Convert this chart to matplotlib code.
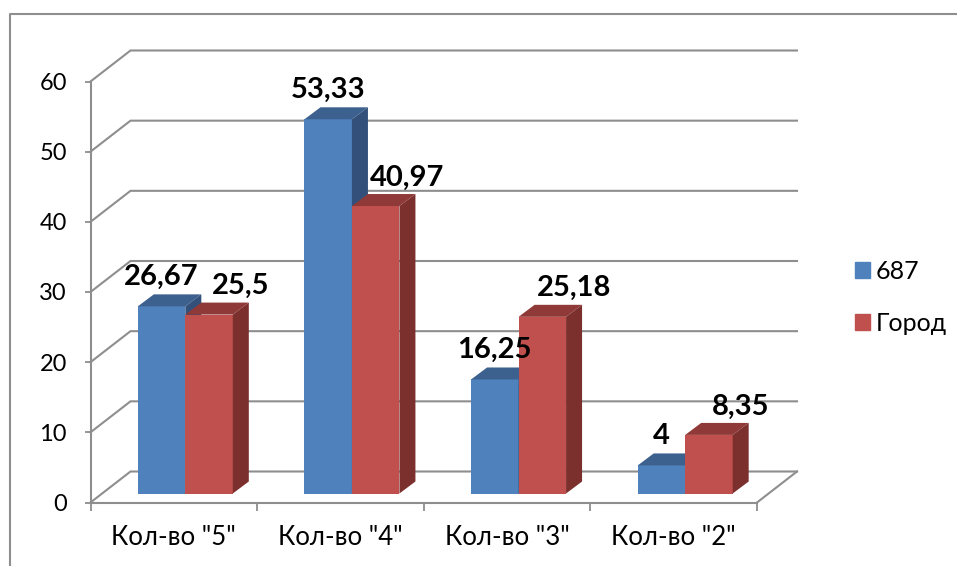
import matplotlib
matplotlib.use('Agg')
from matplotlib import pyplot as plt
from matplotlib.lines import Line2D
from matplotlib.patches import Patch, Polygon
from matplotlib.transforms import Affine2D

plt.rcParams['font.family'] = ['Lato', 'DejaVu Sans']

categories = ['Кол-во "5"', 'Кол-во "4"', 'Кол-во "3"', 'Кол-во "2"']
school = [26.67, 53.33, 16.25, 4]
city = [25.5, 40.97, 25.18, 8.35]
school_text = ['26,67', '53,33', '16,25', '4']
city_text = ['25,5', '40,97', '25,18', '8,35']
y_ticks = [0, 10, 20, 30, 40, 50, 60]

W, H = 957, 566
GRID = '#8e8e8e'
BLUE, BLUE_TOP, BLUE_SIDE = '#4f81bd', '#3d618f', '#325079'
RED, RED_TOP, RED_SIDE = '#c0504d', '#8f3a38', '#7c302e'

fig = plt.figure(figsize=(W / 100, H / 100), dpi=100)
# передняя плоскость оси в пикселях картинки
left, right, top, bottom = 90.5, 757, 81.5, 502.5
ax = fig.add_axes([left / W, 1 - bottom / H, (right - left) / W, (bottom - top) / H])
ax.set_xlim(0, 4)
ax.set_ylim(0, 60)
ax.patch.set_visible(False)

# сдвиги в пикселях: плоскость столбцов, глубина столбца
front = ax.transData + Affine2D().translate(11.5, 9)
px_x = 4 / (right - left)
px_y = 60 / (bottom - top)
depth_x = 16 * px_x
depth_y = 12 * px_y
bar_w = 47.5 * px_x

# стенка и пол
for v in y_ticks:
    ax.plot([0, 40 * px_x, 40 * px_x + 4], [v, v + 31 * px_y, v + 31 * px_y],
            color=GRID, lw=1.5, clip_on=False, zorder=1, solid_joinstyle='miter')
ax.plot([4, 4 + 40 * px_x], [0, 31 * px_y], color=GRID, lw=1.5, clip_on=False, zorder=1)


def draw_bar(x, value, face, top_c, side_c):
    ax.bar(x, value, bar_w, align='edge', color=face, transform=front, zorder=3,
           clip_on=False, edgecolor='none')
    x0, x1 = x, x + bar_w
    ax.add_patch(Polygon([(x0, value), (x1, value), (x1 + depth_x, value + depth_y),
                          (x0 + depth_x, value + depth_y)],
                         facecolor=top_c, transform=front, zorder=3, clip_on=False))
    ax.add_patch(Polygon([(x1, 0), (x1 + depth_x, depth_y), (x1 + depth_x, value + depth_y),
                          (x1, value)],
                         facecolor=side_c, transform=front, zorder=3, clip_on=False))


for i in range(len(categories)):
    center = i + 0.5
    draw_bar(center - bar_w, school[i], BLUE, BLUE_TOP, BLUE_SIDE)
    draw_bar(center, city[i], RED, RED_TOP, RED_SIDE)
    ax.annotate(school_text[i], (center - bar_w / 2, school[i]), xycoords=front,
                xytext=(0, 21), textcoords='offset points', ha='center', va='center',
                fontsize=21, fontweight='bold', color='black', zorder=5)
    ax.annotate(city_text[i], (center + bar_w / 2, city[i]), xycoords=front,
                xytext=(22.5, 20.5), textcoords='offset points', ha='center', va='center',
                fontsize=21, fontweight='bold', color='black', zorder=5)

# оси
for side in ['top', 'right']:
    ax.spines[side].set_visible(False)
for side in ['left', 'bottom']:
    ax.spines[side].set_color(GRID)
    ax.spines[side].set_linewidth(1.5)
    ax.spines[side].set_zorder(2)
ax.set_yticks(y_ticks)
ax.tick_params(axis='y', length=4.5, width=1.3, color=GRID, labelsize=17, pad=12.5)
ax.set_xticks(range(5))
ax.set_xticklabels([])
ax.tick_params(axis='x', which='major', length=6, width=1.3, color=GRID)
ax.set_xticks([i + 0.5 for i in range(4)], minor=True)
ax.set_xticklabels(categories, minor=True)
ax.tick_params(axis='x', which='minor', length=0, labelsize=18.5, pad=16)

# легенда
handles = [Patch(color=BLUE, label='687'), Patch(color=RED, label='Город')]
fig.legend(handles=handles, loc='upper left', bbox_to_anchor=(855 / W, 1 - 260 / H),
           frameon=False, fontsize=18, handlelength=0.6, handleheight=0.6,
           handletextpad=0.24, labelspacing=1.16, borderpad=0, borderaxespad=0)

# рамка диаграммы
fig.add_artist(Line2D([10 / W, 10 / W, 1], [0, 1 - 14 / H, 1 - 14 / H], color=GRID, lw=1.5))

fig.savefig('out.png', dpi=100)
